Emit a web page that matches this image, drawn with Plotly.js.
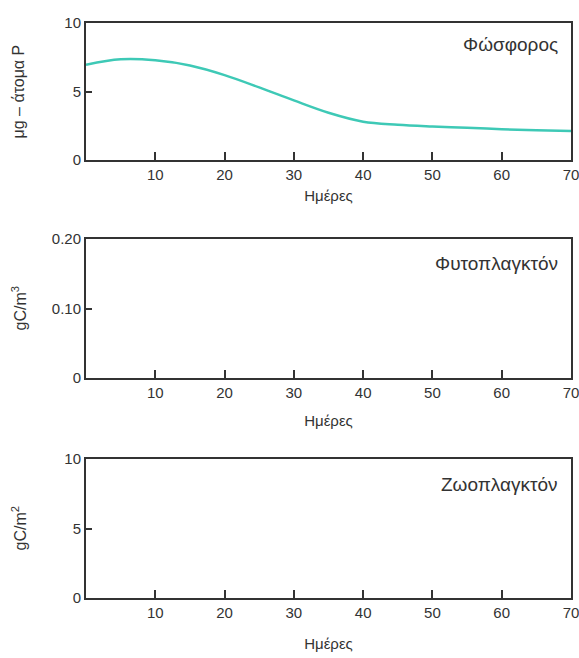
<!DOCTYPE html>
<html>
<head>
<meta charset="utf-8">
<script src="https://cdn.plot.ly/plotly-3.0.1.min.js"></script>
<style>html,body{margin:0;padding:0;background:#fff;}#chart{width:579px;height:658px;}</style>
</head>
<body>
<div id="chart"></div>
<script>
// Data
const days = [0, 5, 10, 15, 20, 25, 30, 35, 40, 45, 50, 55, 60, 65, 70];
const phosphorus = [6.95, 7.35, 7.28, 6.9, 6.2, 5.3, 4.35, 3.45, 2.8, 2.58, 2.45, 2.35, 2.25, 2.17, 2.12];
const phytoDays = [];
const phytoplankton = [];
const zooDays = [];
const zooplankton = [];

const xTicks = [10, 20, 30, 40, 50, 60, 70];
const xTickLabels = ['10', '20', '30', '40', '50', '60', '70'];
const y1Ticks = [0, 5, 10];
const y1TickLabels = ['0', '5', '10'];
const y2Ticks = [0, 0.1, 0.2];
const y2TickLabels = ['0', '0.10', '0.20'];
const y3Ticks = [0, 5, 10];
const y3TickLabels = ['0', '5', '10'];

const panelLabels = ['Φώσφορος', 'Φυτοπλαγκτόν', 'Ζωοπλαγκτόν'];
const yTitles = ['μg – άτομα P', 'gC/m<sup>3</sup>', 'gC/m<sup>2</sup>'];
const xTitle = 'Ημέρες';

const ink = '#333333';
const font = {family: 'Liberation Sans, Arial, sans-serif', size: 15, color: ink};

const traces = [
  {x: days, y: phosphorus, xaxis: 'x', yaxis: 'y', type: 'scatter', mode: 'lines',
   line: {color: '#3ec9b6', width: 2.5, shape: 'spline', smoothing: 1}, hoverinfo: 'skip'},
  {x: phytoDays, y: phytoplankton, xaxis: 'x2', yaxis: 'y2', type: 'scatter', mode: 'lines',
   line: {color: '#3ec9b6', width: 2.5}},
  {x: zooDays, y: zooplankton, xaxis: 'x3', yaxis: 'y3', type: 'scatter', mode: 'lines',
   line: {color: '#3ec9b6', width: 2.5}}
];

function xa(anchor, standoff) {
  return {
    anchor: anchor, range: [0, 70], tickmode: 'array', tickvals: xTicks, ticktext: xTickLabels,
    ticks: 'inside', ticklen: 8, tickwidth: 2, tickcolor: ink, ticklabeloverflow: 'allow',
    showline: true, mirror: true, linewidth: 2, linecolor: ink,
    showgrid: false, zeroline: false, tickfont: font,
    title: {text: xTitle, font: font, standoff: standoff}
  };
}
function ya(anchor, domain, range, tv, tt) {
  return {
    anchor: anchor, domain: domain, range: range, tickmode: 'array', tickvals: tv, ticktext: tt,
    ticks: 'inside', ticklen: 6, tickwidth: 2, tickcolor: ink,
    showline: true, mirror: true, linewidth: 2, linecolor: ink,
    showgrid: false, zeroline: false, tickfont: font
  };
}

const doms = [[0.7617, 1], [0.3826, 0.6243], [0, 0.2417]];
const ann = [];
const labelY = [0.84, 0.826, 0.82];
['x', 'x2', 'x3'].forEach(function (xr, i) {
  const yr = ['y', 'y2', 'y3'][i];
  ann.push({xref: xr + ' domain', yref: yr + ' domain', x: 0.977, y: labelY[i], xanchor: 'right', yanchor: 'middle',
            text: panelLabels[i], showarrow: false, font: {family: font.family, size: 19, color: ink}});
  ann.push({xref: 'paper', yref: yr + ' domain', x: (19 - 86) / 485, y: 0.5, xanchor: 'center', yanchor: 'middle',
            textangle: -90, text: yTitles[i], showarrow: false, font: {family: font.family, size: 16, color: ink}});
});

const layout = {
  width: 579, height: 658,
  margin: {l: 86, r: 8, t: 23, b: 60, pad: 0},
  paper_bgcolor: '#ffffff', plot_bgcolor: '#ffffff',
  showlegend: false, font: font,
  xaxis: xa('y', 8), xaxis2: xa('y2', 15), xaxis3: xa('y3', 18),
  yaxis: ya('x', doms[0], [0, 10], y1Ticks, y1TickLabels),
  yaxis2: ya('x2', doms[1], [0, 0.2], y2Ticks, y2TickLabels),
  yaxis3: ya('x3', doms[2], [0, 10], y3Ticks, y3TickLabels),
  annotations: ann
};

Plotly.newPlot('chart', traces, layout, {staticPlot: true, displayModeBar: false});
</script>
</body>
</html>
